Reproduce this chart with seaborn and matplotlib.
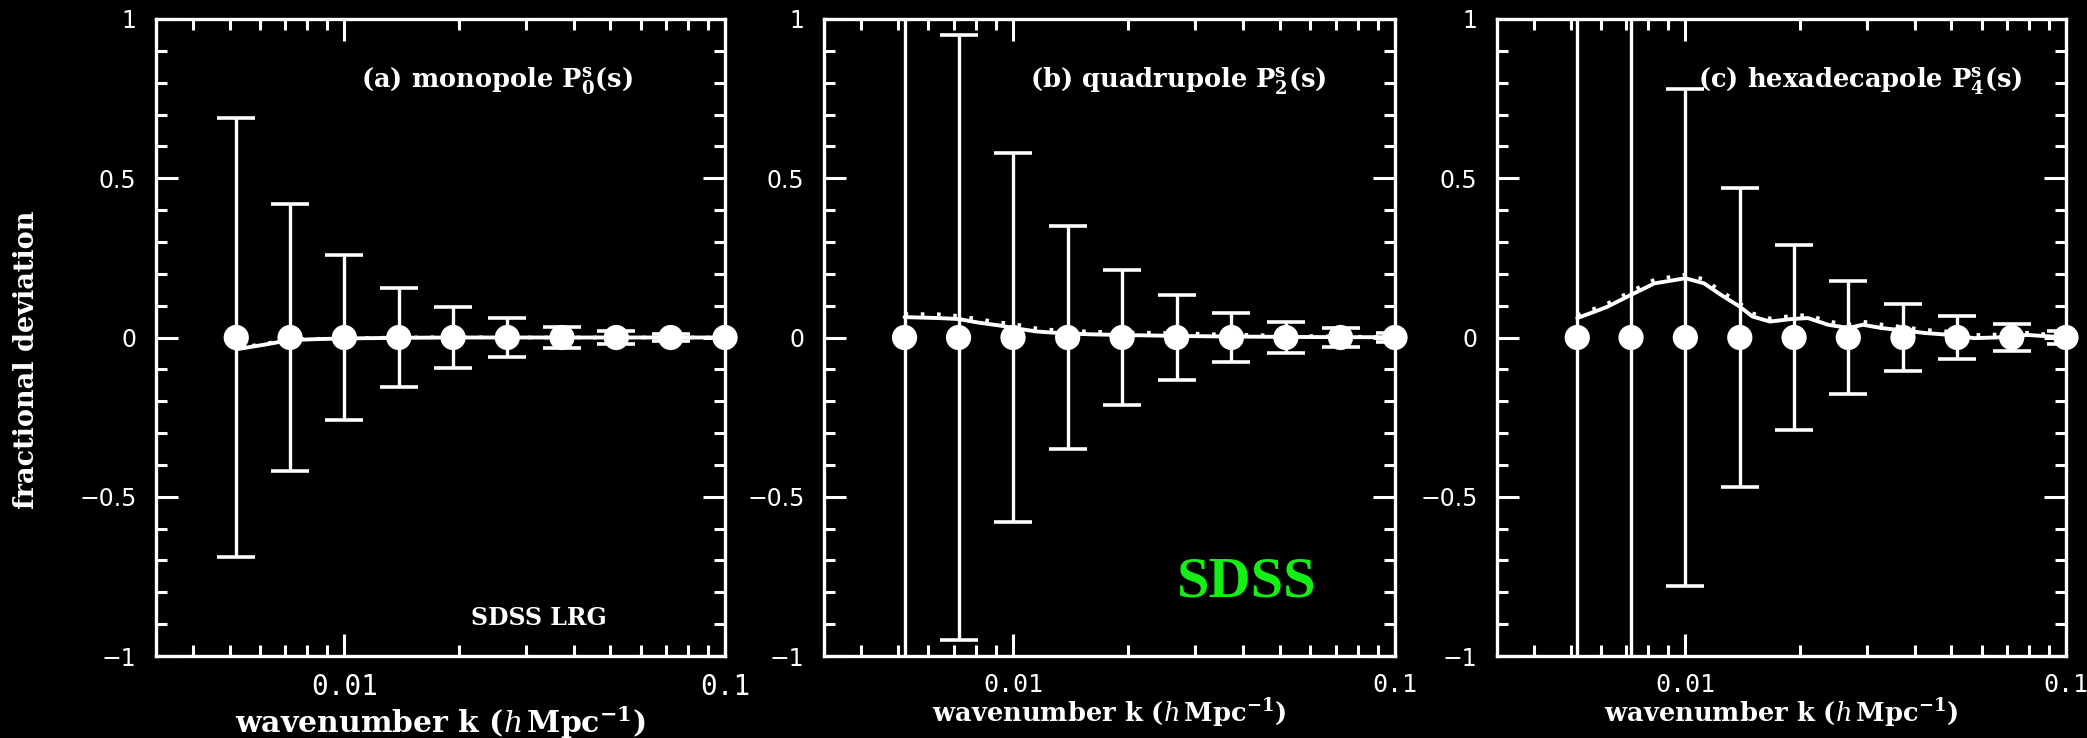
import numpy as np
import pandas as pd
import seaborn as sns
import matplotlib
matplotlib.use("Agg")
import matplotlib.pyplot as plt
from matplotlib.ticker import FixedLocator, FixedFormatter, LogLocator, NullFormatter, MultipleLocator

# ---- measured band powers: fractional deviation and 1-sigma errors ----
k_bins = [0.0052, 0.0072, 0.0100, 0.0139, 0.0193, 0.0268, 0.0373, 0.0518, 0.0720, 0.1000]

dev_mono = [0.0, 0.0, 0.0, 0.0, 0.0, 0.0, 0.0, 0.0, 0.0, 0.0]
dev_quad = [0.0, 0.0, 0.0, 0.0, 0.0, 0.0, 0.0, 0.0, 0.0, 0.0]
dev_hexa = [0.0, 0.0, 0.0, 0.0, 0.0, 0.0, 0.0, 0.0, 0.0, 0.0]

err_mono = [0.69, 0.42, 0.26, 0.155, 0.095, 0.06, 0.034, 0.02, 0.01, 0.0]
err_quad = [1.60, 0.95, 0.58, 0.35, 0.212, 0.132, 0.078, 0.049, 0.03, 0.015]
err_hexa = [2.50, 1.90, 0.78, 0.47, 0.289, 0.176, 0.106, 0.067, 0.043, 0.02]

# ---- model curves (solid and dotted) ----
k_model_mono = [0.0052, 0.0062, 0.0072, 0.0085, 0.0100, 0.0139, 0.0193, 0.0268, 0.0373, 0.0518, 0.0720, 0.1000]
mono_solid = [-0.037, -0.022, -0.008, -0.005, -0.003, -0.001, 0.0, 0.0, 0.0, 0.0, 0.0, 0.0]
mono_dotted = [-0.034, -0.019, -0.006, -0.004, -0.002, 0.0, 0.001, 0.0, 0.0, 0.0, 0.0, 0.0]

k_model_quad = [0.0052, 0.0064, 0.0072, 0.0081, 0.0093, 0.0100, 0.0115, 0.0132, 0.0139, 0.0159,
                0.0192, 0.0266, 0.0368, 0.0512, 0.0710, 0.1000]
quad_solid = [0.064, 0.061, 0.058, 0.047, 0.037, 0.030, 0.019, 0.014, 0.013, 0.010,
              0.008, 0.005, 0.003, 0.002, 0.001, 0.001]
quad_dotted = [0.074, 0.073, 0.068, 0.058, 0.047, 0.043, 0.029, 0.022, 0.021, 0.019,
               0.016, 0.014, 0.009, 0.006, 0.003, 0.002]

k_model_hexa = [0.0052, 0.0062, 0.0072, 0.0083, 0.0100, 0.0112, 0.0124, 0.0139, 0.0150, 0.0167,
                0.0190, 0.0210, 0.0237, 0.0268, 0.0293, 0.0326, 0.0362, 0.0427, 0.0499, 0.0574,
                0.0693, 0.0792, 0.1000]
hexa_solid = [0.061, 0.095, 0.134, 0.170, 0.186, 0.170, 0.134, 0.097, 0.066, 0.050,
              0.058, 0.061, 0.040, 0.030, 0.040, 0.030, 0.024, 0.014, 0.008, -0.002,
              0.001, 0.008, 0.0]
hexa_dotted = [0.070, 0.105, 0.145, 0.182, 0.198, 0.183, 0.146, 0.108, 0.076, 0.060,
               0.068, 0.071, 0.051, 0.040, 0.050, 0.041, 0.035, 0.024, 0.018, 0.008,
               0.010, 0.015, 0.005]

panel_titles = [r"(a) monopole P$^{\mathbf{s}}_{\mathbf{0}}$(s)",
                r"(b) quadrupole P$^{\mathbf{s}}_{\mathbf{2}}$(s)",
                r"(c) hexadecapole P$^{\mathbf{s}}_{\mathbf{4}}$(s)"]
title_x = [0.60, 0.62, 0.638]
x_tick_vals = [0.01, 0.1]
x_tick_text = ["0.01", "0.1"]
y_tick_vals = [-1, -0.5, 0, 0.5, 1]
y_tick_text = ["\u22121", "\u22120.5", "0", "0.5", "1"]
xlabel_text = r"wavenumber k ($h\,$Mpc$^{\mathbf{-1}}$)"

sns.set_theme(style="ticks")
plt.rcParams["font.family"] = ["DejaVu Sans"]
plt.rcParams["mathtext.fontset"] = "dejavuserif"
plt.rcParams["mathtext.bf"] = "DejaVu Serif:bold"

W, H = 2087, 738
fig = plt.figure(figsize=(W / 100, H / 100), dpi=100, facecolor="black")

lefts = [156, 824, 1497]
widths = [569, 571, 569]
bottom_px, height_px = 82, 637

panels = [
    (dev_mono, err_mono, k_model_mono, mono_solid, mono_dotted),
    (dev_quad, err_quad, k_model_quad, quad_solid, quad_dotted),
    (dev_hexa, err_hexa, k_model_hexa, hexa_solid, hexa_dotted),
]

for i, (dev, err, km, solid, dotted) in enumerate(panels):
    ax = fig.add_axes([lefts[i] / W, bottom_px / H, widths[i] / W, height_px / H])
    ax.set_facecolor("black")
    ax.set_xscale("log")

    curve = pd.DataFrame({"k": km, "solid": solid, "dotted": dotted})
    sns.lineplot(data=curve, x="k", y="solid", ax=ax, color="white", lw=2.8,
                 estimator=None, sort=False, zorder=3)
    sns.lineplot(data=curve, x="k", y="dotted", ax=ax, color="white", lw=2.6,
                 estimator=None, sort=False, linestyle=(0, (1, 3.5)), zorder=3)

    ax.errorbar(k_bins, dev, yerr=err, fmt="none", ecolor="white", elinewidth=2.4,
                capsize=14, capthick=2.6, zorder=4)
    pts = pd.DataFrame({"k": k_bins, "dev": dev})
    sns.scatterplot(data=pts, x="k", y="dev", ax=ax, s=330, color="white",
                    edgecolor="none", clip_on=False, zorder=5)

    ax.set_xlim(0.0032, 0.1)
    ax.set_ylim(-1, 1)
    ax.set_xlabel("")
    ax.set_ylabel("")

    for sp in ax.spines.values():
        sp.set_visible(True)
        sp.set_color("white")
        sp.set_linewidth(2.4)
        sp.set_zorder(6)

    ax.xaxis.set_major_locator(FixedLocator(x_tick_vals))
    ax.xaxis.set_major_formatter(FixedFormatter(x_tick_text))
    ax.xaxis.set_minor_locator(LogLocator(base=10, subs=np.arange(2, 10)))
    ax.xaxis.set_minor_formatter(NullFormatter())
    ax.yaxis.set_major_locator(FixedLocator(y_tick_vals))
    ax.yaxis.set_major_formatter(FixedFormatter(y_tick_text))
    ax.yaxis.set_minor_locator(MultipleLocator(0.1))

    ax.tick_params(which="both", direction="in", top=True, right=True,
                   color="white", labelcolor="white", width=2.2)
    ax.tick_params(which="major", length=16)
    ax.tick_params(which="minor", length=8)
    ax.tick_params(axis="x", which="major", pad=12)
    ax.tick_params(axis="y", which="major", pad=14)
    for lab in ax.get_xticklabels():
        lab.set_fontfamily("DejaVu Sans Mono")
        lab.set_fontsize(20 if i == 0 else 18)
    for lab in ax.get_yticklabels():
        lab.set_fontsize(17)

    ax.text(title_x[i], 0.904, panel_titles[i], transform=ax.transAxes, ha="center",
            va="center", color="white", fontsize=18.5, fontweight="bold",
            fontfamily="DejaVu Serif")

    ax.text(0.5, -0.105 if i == 0 else -0.09, xlabel_text, transform=ax.transAxes,
            ha="center", va="center", color="white",
            fontsize=21.5 if i == 0 else 18.5, fontweight="bold", fontfamily="DejaVu Serif")

    if i == 0:
        ax.text(0.673, 0.06, "SDSS LRG", transform=ax.transAxes, ha="center",
                va="center", color="white", fontsize=17, fontweight="bold",
                fontfamily="DejaVu Serif")
    if i == 1:
        ax.text(0.74, 0.115, "SDSS", transform=ax.transAxes, ha="center",
                va="center", color="#14f014", fontsize=42, fontweight="bold",
                fontfamily="Liberation Serif")

fig.text(27 / W, (H - 360) / H, "fractional deviation", rotation=90, ha="center",
         va="center", color="white", fontsize=19.5, fontweight="bold",
         fontfamily="DejaVu Serif")

fig.savefig("out.png", dpi=100, facecolor="black")
